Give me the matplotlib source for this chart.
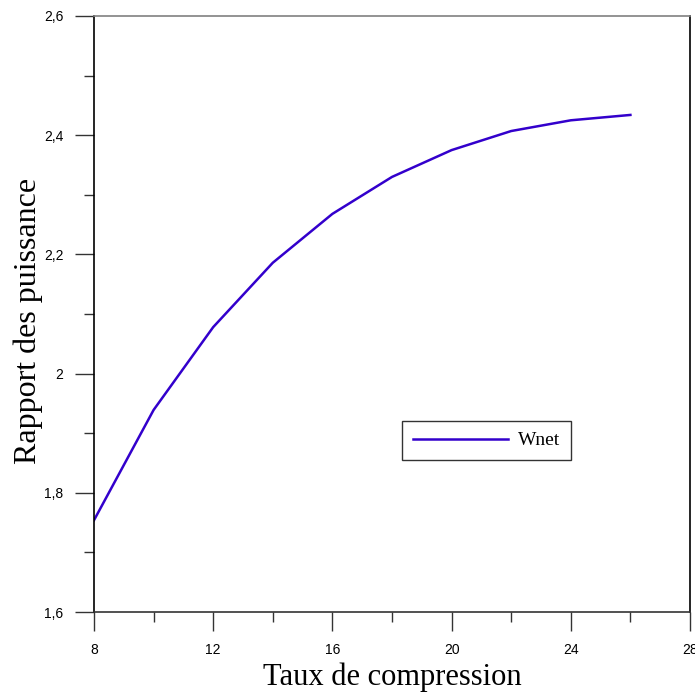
import matplotlib
matplotlib.use("Agg")
import matplotlib.pyplot as plt
from matplotlib.ticker import MultipleLocator, FixedLocator, FixedFormatter

x = [8, 10, 12, 14, 16, 18, 20, 22, 24, 26]
wnet = [1.754, 1.939, 2.078, 2.186, 2.268, 2.330, 2.375, 2.407, 2.425, 2.434]
xticks = [8, 12, 16, 20, 24, 28]
xticklabels = ["8", "12", "16", "20", "24", "28"]
yticks = [1.6, 1.8, 2.0, 2.2, 2.4, 2.6]
yticklabels = ["1,6", "1,8", "2", "2,2", "2,4", "2,6"]

fig = plt.figure(figsize=(6.95, 6.93), dpi=100)
ax = fig.add_axes([94/695, 1-612/693, (690-94)/695, (612-16)/693])
ax.plot(x, wnet, color="#3300CC", lw=1.8, label="Wnet")
ax.set_xlim(8, 28)
ax.set_ylim(1.6, 2.6)
ax.xaxis.set_major_locator(FixedLocator(xticks))
ax.xaxis.set_major_formatter(FixedFormatter(xticklabels))
ax.yaxis.set_major_locator(FixedLocator(yticks))
ax.yaxis.set_major_formatter(FixedFormatter(yticklabels))
ax.xaxis.set_minor_locator(MultipleLocator(2))
ax.yaxis.set_minor_locator(MultipleLocator(0.1))
ax.tick_params(which="major", direction="out", length=14, width=1.0, color="#333333",
               labelsize=10, pad=8)
ax.tick_params(which="minor", direction="out", length=7, width=1.0, color="#333333")
for lab in ax.get_xticklabels() + ax.get_yticklabels():
    lab.set_fontfamily("Liberation Sans")
ax.spines["top"].set_color("#808080")
ax.spines["bottom"].set_color("#333333")
ax.spines["left"].set_color("#000000")
ax.spines["right"].set_color("#000000")
for s in ax.spines.values():
    s.set_linewidth(1.2)
ax.set_xlabel("Taux de compression", fontfamily="Liberation Serif", fontsize=22, labelpad=4)
fig.text(28/695, 1-321/693, "Rapport des puissance", rotation=90, ha="center", va="center",
         fontfamily="Liberation Serif", fontsize=23)
leg = ax.legend(loc="upper left", bbox_to_anchor=((402-94)/596, (612-421)/596),
                borderaxespad=0,
                prop={"family": "Liberation Serif", "size": 14}, frameon=True, fancybox=False,
                edgecolor="black", borderpad=0.55, handlelength=4.9, handletextpad=0.5)
leg.get_frame().set_linewidth(1.0)
fig.savefig("out.png", dpi=100)
